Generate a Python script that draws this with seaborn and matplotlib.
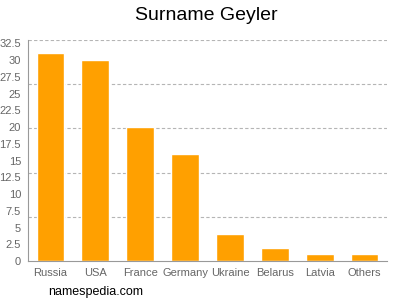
import matplotlib
matplotlib.use("Agg")
import matplotlib.pyplot as plt
import seaborn as sns
import pandas as pd
import numpy as np
from matplotlib.ticker import FixedLocator

countries = ["Russia", "USA", "France", "Germany", "Ukraine", "Belarus", "Latvia", "Others"]
counts = [31, 30, 20, 16, 4, 2, 1, 1]
y_ticks = [0, 2.5, 5, 7.5, 10, 12.5, 15, 17.5, 20, 22.5, 25, 27.5, 30, 32.5]
y_tick_labels = ["0", "2.5", "5", "7.5", "10", "12.5", "15", "17.5", "20", "22.5", "25", "27.5", "30", "32.5"]
y_max = 33
grid_lines = [y_max * k / 5 for k in range(1, 6)]

sns.set_style("white")
plt.rcParams['font.family'] = ['Liberation Sans', 'DejaVu Sans']

df = pd.DataFrame({"country": countries, "count": counts})

fig = plt.figure(figsize=(4, 3), dpi=100)
ax = fig.add_axes([0.07, 0.13, 0.8975, 0.7367])
sns.barplot(data=df, x="country", y="count", color="#FFA000", saturation=1, width=0.62, ax=ax)

ax.set_ylim(0, y_max)
ax.set_xlim(-0.5, len(countries) - 0.5)
ax.set_yticks(y_ticks)
ax.set_yticklabels(y_tick_labels)
ax.yaxis.set_minor_locator(FixedLocator(grid_lines))
ax.grid(False)
ax.grid(True, which="minor", axis="y", color="#B5B5B5", linestyle=(0, (3, 2)), linewidth=0.8)
ax.set_axisbelow(True)
ax.tick_params(axis="y", which="minor", length=0)
ax.tick_params(axis="both", which="major", labelsize=8, colors="#666666", length=3, width=0.8, pad=2)
ax.tick_params(axis="y", which="major", direction="out")
ax.set_xlabel("")
ax.set_ylabel("")
for s in ["top", "right"]:
    ax.spines[s].set_visible(False)
for s in ["left", "bottom"]:
    ax.spines[s].set_color("#999999")
    ax.spines[s].set_linewidth(0.8)

fig.text(0.517, 0.95, "Surname Geyler", ha="center", va="center", fontsize=14, color="#000000")
fig.text(0.12, 0.028, "namespedia.com", ha="left", va="center", fontsize=9, color="#000000")

fig.savefig("out.png", dpi=100)
